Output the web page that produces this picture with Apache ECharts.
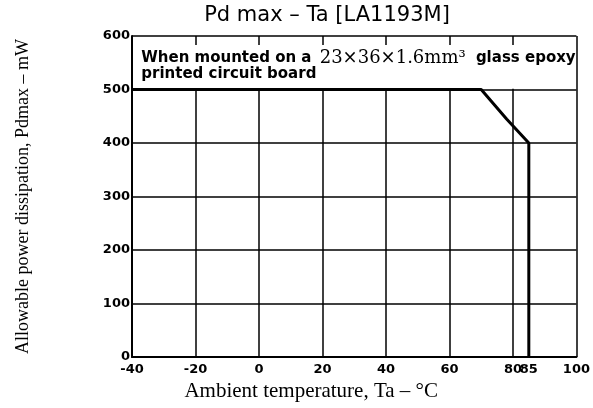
<!DOCTYPE html>
<html>
<head>
<meta charset="utf-8">
<script src="https://cdn.jsdelivr.net/npm/echarts@6/dist/echarts.min.js"></script>
<style>
  html, body { margin: 0; padding: 0; background: #fff; }
  #main { width: 593px; height: 408px; }
</style>
</head>
<body>
<div id="main"></div>
<script>
// derating curve, Ta (°C) vs Pd max (mW)
const temps = [-40, 70, 78, 85, 85];
const power = [500, 500, 445, 400, 0];
const xTicks = [-40, -20, 0, 20, 40, 60, 80, 85, 100];
const yTicks = [0, 100, 200, 300, 400, 500, 600];

const chart = echarts.init(document.getElementById('main'));

const sans = 'DejaVu Sans, sans-serif';
const serif = 'Liberation Serif, Times New Roman, serif';

const option = {
  animation: false,
  title: {
    text: 'Pd max \u2013 Ta [LA1193M]',
    left: 322, top: 0, textAlign: 'center',
    textStyle: { fontFamily: sans, fontSize: 21, fontWeight: 'normal', color: '#000' }
  },
  grid: { left: 132, right: 14, top: 36, bottom: 51 },
  xAxis: {
    type: 'value', min: -40, max: 100, interval: 20,
    name: 'Ambient temperature, Ta \u2013 \u00b0C',
    nameLocation: 'middle', nameGap: 21,
    nameTextStyle: { fontFamily: serif, fontSize: 21, color: '#000', padding: [0, 86, 0, 0] },
    axisLine: { onZero: false, lineStyle: { color: '#000', width: 2 } },
    axisTick: { show: false },
    axisLabel: {
      customValues: xTicks, margin: 6,
      fontFamily: sans, fontSize: 13, fontWeight: 'bold', color: '#000'
    },
    splitLine: { show: true, lineStyle: { color: '#000', width: 1.5, type: 'solid' } }
  },
  yAxis: {
    type: 'value', min: 0, max: 600, interval: 100,
    name: 'Allowable power dissipation, Pdmax \u2013 mW',
    nameLocation: 'middle', nameGap: 100,
    nameTextStyle: { fontFamily: serif, fontSize: 18, color: '#000' },
    axisLine: { show: true, onZero: false, lineStyle: { color: '#000', width: 2 } },
    axisTick: { show: false },
    axisLabel: {
      customValues: yTicks, margin: 2,
      fontFamily: sans, fontSize: 13, fontWeight: 'bold', color: '#000'
    },
    splitLine: { show: true, lineStyle: { color: '#000', width: 1.5 } }
  },
  series: [{
    type: 'line',
    data: temps.map((t, i) => [t, power[i]]),
    symbol: 'none',
    lineStyle: { color: '#000', width: 3 },
    markArea: {
      silent: true,
      itemStyle: { color: '#fff' },
      label: {
        show: true, position: [8, 5],
        fontFamily: sans, fontSize: 15, fontWeight: 'bold', color: '#000', lineHeight: 16,
        formatter: 'When mounted on a {m|23\u00d736\u00d71.6mm\u00b3} glass epoxy\nprinted circuit board',
        rich: {
          m: { fontFamily: 'DejaVu Serif, serif', fontSize: 18, fontWeight: 'normal', color: '#000', padding: [0, 5, 0, 3] }
        }
      },
      data: [[{ xAxis: -39.6, yAxis: 583 }, { xAxis: 99.6, yAxis: 501.5 }]]
    }
  }]
};

chart.setOption(option);
</script>
</body>
</html>
